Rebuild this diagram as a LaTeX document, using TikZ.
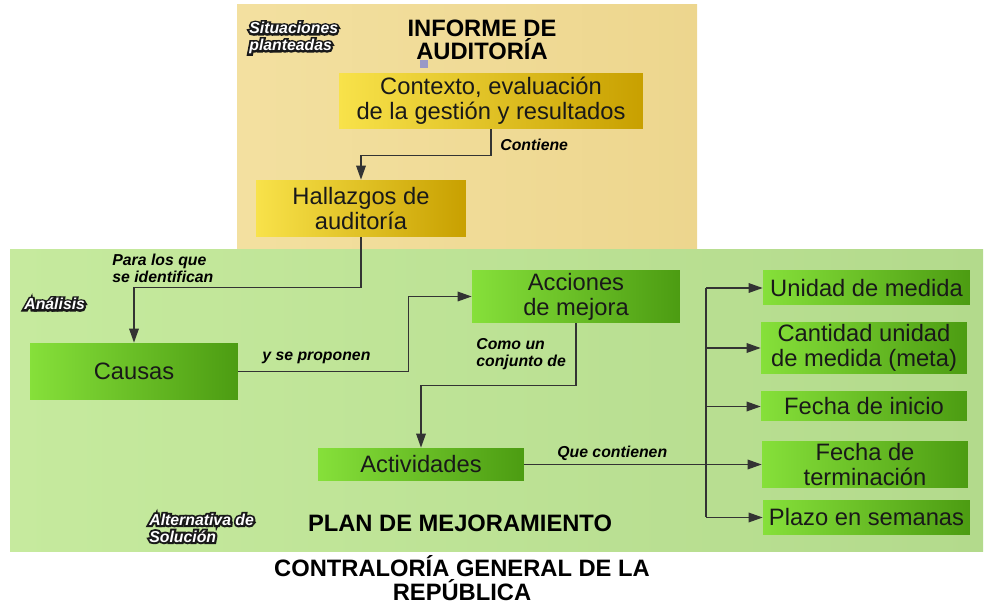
\documentclass[tikz,border=0pt]{standalone}
\usepackage{fontspec}
\setmainfont{Liberation Sans}
\newfontface\outfont{Liberation Sans Bold Italic}[FakeBold=25]
\newcommand\outl[1]{\rlap{\color{black!90}\outfont #1}#1}
\usetikzlibrary{arrows.meta}

\definecolor{bgyellow}{HTML}{F3E0A0}
\definecolor{bgyellowdk}{HTML}{EDD68E}
\definecolor{bggreen}{HTML}{C6EA9E}
\definecolor{bggreendk}{HTML}{B3DA8C}
\definecolor{ylight}{HTML}{F8E24A}
\definecolor{ydark}{HTML}{C8A000}
\definecolor{glight}{HTML}{86E03A}
\definecolor{gdark}{HTML}{4C9C12}

\tikzset{
  boxbase/.style={inner sep=1pt, align=center, text=black!90,
    font=\fontsize{13.5}{14.2}\selectfont},
  ybox/.style={boxbase, left color=ylight, right color=ydark},
  gbox/.style={boxbase, left color=glight, right color=gdark},
  lbl/.style={font=\fontsize{9}{9.6}\selectfont\bfseries\itshape,
    anchor=west, align=left, inner sep=0pt},
  olbl/.style={lbl, text=white},
  ttl/.style={font=\fontsize{13.5}{13.3}\selectfont\bfseries, align=center},
  ln/.style={draw=black!80, line width=0.7pt},
  arr/.style={ln, -{Triangle[length=8pt,width=5.5pt]}}
}

\begin{document}
\begin{tikzpicture}[x=0.02cm, y=-0.02cm]
  \useasboundingbox (0,0) rectangle (985,604);

  % backgrounds
  \shade[left color=bgyellow, right color=bgyellowdk] (237,5) rectangle (697,250);
  \shade[left color=bggreen, right color=bggreendk] (10,250) rectangle (983,552);

  % informe de auditoria
  \node[ttl] (tinf) at (482,40) {INFORME DE\\AUDITORÍA};
  \fill[black!55!blue!40] (420,60) rectangle (428,68);
  \node[olbl] (sit) at (249,38) {\outl{Situaciones}\\\outl{planteadas}};

  \node[ybox, minimum width=6.08cm, minimum height=1.12cm] (ctx) at (491,101)
    {Contexto, evaluación\\de la gestión y resultados};
  \node[ybox, minimum width=4.2cm, minimum height=1.14cm] (hall) at (361,208.5)
    {Hallazgos de\\auditoría};
  \node[lbl] (lcont) at (500,145) {Contiene};

  % plan de mejoramiento
  \node[gbox, minimum width=4.16cm, minimum height=1.14cm] (causas) at (134,371.5) {Causas};
  \node[gbox, minimum width=4.16cm, minimum height=1.06cm] (acc) at (576,296.5)
    {Acciones\\de mejora};
  \node[gbox, minimum width=4.12cm, minimum height=0.66cm] (act) at (421,464.5) {Actividades};

  \node[gbox, minimum width=4.14cm, minimum height=0.68cm] (um) at (866.5,288) {Unidad de medida};
  \node[gbox, minimum width=4.12cm, minimum height=1.04cm] (cant) at (864,348)
    {Cantidad unidad\\de medida (meta)};
  \node[gbox, minimum width=4.12cm, minimum height=0.58cm] (fini) at (864,406.5) {Fecha de inicio};
  \node[gbox, minimum width=4.12cm, minimum height=0.94cm] (fter) at (865,464.5)
    {Fecha de\\terminación};
  \node[gbox, minimum width=4.14cm, minimum height=0.7cm] (plazo) at (866.5,517.5) {Plazo en semanas};

  \node[lbl] (lpara) at (112,268) {Para los que\\se identifican};
  \node[lbl] (lprop) at (262,358) {y se proponen};
  \node[lbl] (lcomo) at (476,354) {Como un\\conjunto de};
  \node[lbl] (lque) at (557,453) {Que contienen};
  \node[olbl] (anal) at (24,304) {\outl{Análisis}};
  \node[olbl] (alt) at (149,528) {\outl{Alternativa de}\\\outl{Solución}};

  \node[ttl] (tplan) at (460,523) {PLAN DE MEJORAMIENTO};
  \node[ttl] (tcgr) at (462,578) {CONTRALORÍA GENERAL DE LA\\REPÚBLICA};

  % connectors
  \draw[arr] (ctx.south) -- ++(0,26) -| (hall.north);
  \draw[arr] (hall.south) -- ++(0,50) -| (causas.north);
  \draw[arr] (causas.east) -- ++(170,0) |- (acc.west);
  \draw[arr] (acc.south) -- ++(0,62) -| (act.north);
  \draw[arr] (act.east) -- (fter.west);

  \coordinate (bus) at (706,288);
  \draw[ln] (bus) -- (bus |- plazo.west);
  \foreach \n in {um,cant,fini,plazo}
    \draw[arr] (bus |- \n.west) -- (\n.west);
\end{tikzpicture}
\end{document}
